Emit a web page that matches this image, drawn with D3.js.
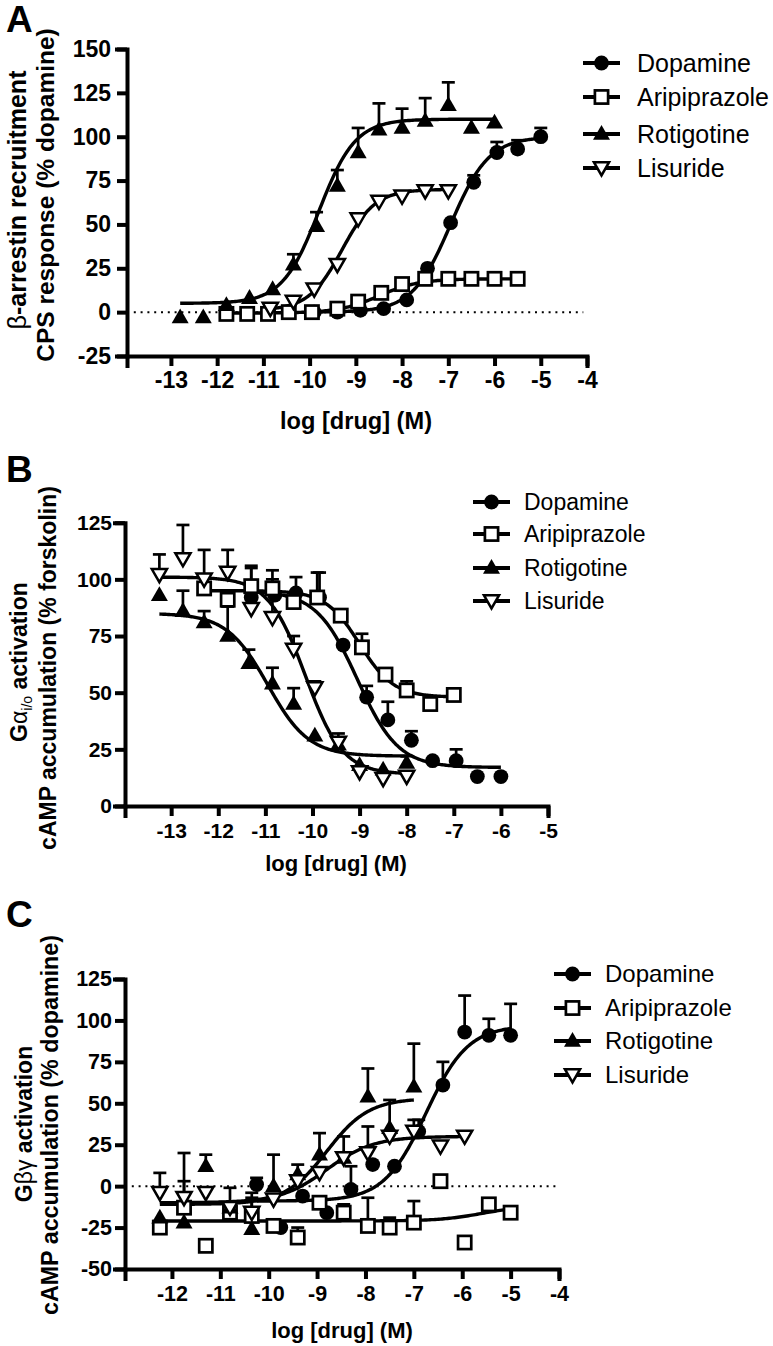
<!DOCTYPE html>
<html><head><meta charset="utf-8">
<script src="https://cdn.jsdelivr.net/npm/d3@7"></script>
<style>
body{margin:0;background:#fff}
svg{display:block;font-family:"Liberation Sans",Arial,Helvetica,sans-serif}
</style>
</head><body>
<svg id="c" width="773" height="1346"></svg>
<script>
// ---------- DATA ----------
const drugs = ["Dopamine", "Aripiprazole", "Rotigotine", "Lisuride"];

// Panel A: beta-arrestin recruitment
const aTicksX = [-13, -12, -11, -10, -9, -8, -7, -6, -5, -4];
const aTicksY = [-25, 0, 25, 50, 75, 100, 125, 150];
const aDopX = [-9.9, -9.4, -8.9, -8.4, -7.9, -7.45, -6.95, -6.45, -5.95, -5.5, -5];
const aDopY = [0, 0, 1, 2, 7, 25, 51, 74, 91, 93, 100];
const aDopE = [null, null, null, null, null, null, null, 78, 97, 98, 105];
const aAriX = [-11.8, -11.35, -10.9, -10.45, -9.95, -9.4, -8.95, -8.45, -8, -7.5, -7, -6.5, -6, -5.5];
const aAriY = [-1, -1, -1, 0, 0, 2, 6, 11, 16, 19, 19, 19, 19, 19];
const aAriE = [null, null, null, null, null, null, null, null, null, null, null, null, null, null];
const aRotX = [-12.8, -12.3, -11.8, -11.3, -10.8, -10.35, -9.85, -9.4, -8.95, -8.5, -8, -7.5, -7, -6.5, -6];
const aRotY = [-3, -3, 4, 8, 13, 27, 49, 72, 91, 104, 105, 109, 118, 105, 108];
const aRotE = [null, null, null, null, null, 33, 57, 81, 105, 119, 116, 122, 131, null, null];
const aLisX = [-10.85, -10.35, -9.9, -9.4, -8.95, -8.5, -8, -7.5, -7];
const aLisY = [2, 6, 13, 27, 53, 63, 66, 69, 69];
const aLisE = [null, null, null, null, null, null, null, null, null];
// fit parameters: [low-dose plateau, high-dose plateau, logEC50, hill]
const aDopFit = [0, 100, -6.95, 1.05];
const aAriFit = [-0.5, 19, -8.5, 1.0];
const aRotFit = [5, 110, -9.8, 1.1];
const aLisFit = [1, 70, -9.3, 1.2];

// Panel B: Galpha i/o activation
const bTicksX = [-13, -12, -11, -10, -9, -8, -7, -6, -5];
const bTicksY = [0, 25, 50, 75, 100, 125];
const bDopX = [-11.3, -10.8, -10.35, -9.85, -9.35, -8.85, -8.4, -7.9, -7.45, -6.95, -6.5, -6];
const bDopY = [92, 93, 94, 92, 71, 48, 38, 29, 20, 20, 13, 13];
const bDopE = [null, null, 101, 103, null, 53, 46, 33, null, 25, null, null];
const bAriX = [-12.3, -11.8, -11.3, -10.85, -10.4, -9.9, -9.4, -8.95, -8.45, -8, -7.5, -7];
const bAriY = [96, 91, 97, 96, 90, 92, 84, 70, 58, 51, 45, 49];
const bAriE = [null, null, 105, 104, null, 103, null, 76, null, 55, null, null];
const bRotX = [-13.25, -12.75, -12.3, -11.8, -11.35, -10.85, -10.4, -9.95, -9.45, -9, -8.5, -8];
const bRotY = [93, 86, 81, 75, 63, 54, 45, 31, 27, 18, 16, 19];
const bRotE = [null, 95, 86, 88, 69, 61, 52, null, null, null, null, 22];
const bLisX = [-13.25, -12.75, -12.3, -11.8, -11.3, -10.85, -10.4, -9.95, -9.45, -9, -8.5, -8];
const bLisY = [102, 109, 100, 103, 87, 83, 69, 52, 28, 15, 12, 13];
const bLisE = [111, 124, 113, 113, 106, 100, 75, 55, 32, null, null, null];
const bDopFit = [95, 17, -9.05, 1.0];
const bAriFit = [95, 48, -9.0, 1.2];
const bRotFit = [85, 22, -10.95, 1.0];
const bLisFit = [101, 14, -10.15, 1.1];

// Panel C: Gbetagamma activation
const cTicksX = [-12, -11, -10, -9, -8, -7, -6, -5, -4];
const cTicksY = [-50, -25, 0, 25, 50, 75, 100, 125];
const cDopX = [-10.25, -9.75, -9.3, -8.8, -8.3, -7.85, -7.4, -6.9, -6.4, -5.95, -5.45, -5];
const cDopY = [1, -25, -6, -16, -2, 13, 12, 33, 61, 93, 91, 91];
const cDopE = [5, null, null, null, 12, null, null, 40, 75, 115, 101, 110];
const cAriX = [-12.25, -11.75, -11.3, -10.8, -10.35, -9.9, -9.4, -8.95, -8.45, -7.95, -7.5, -7, -6.45, -5.95, -5.45, -5];
const cAriY = [-25, -13, -36, -16, -18, -24, -31, -10, -16, -24, -25, -22, 3, -34, -11, -16];
const cAriE = [null, 3, null, null, -7, null, -25, null, -11, -7, -19, -9, null, null, null, null];
const cRotX = [-12.25, -11.75, -11.3, -10.8, -10.35, -9.9, -9.4, -8.95, -8.45, -7.95, -7.5, -7];
const cRotY = [-19, -22, 12, -13, -26, 0, 7, 19, 17, 54, 35, 60];
const cRotE = [null, null, 19, null, null, 19, 13, 32, 30, 71, 52, 86];
const cLisX = [-12.25, -11.75, -11.3, -10.8, -10.35, -9.9, -9.4, -8.95, -8.45, -7.95, -7.5, -7, -6.45, -5.95];
const cLisY = [-4, -7, -4, -13, -16, -8, 3, 8, 17, 20, 30, 33, 24, 30];
const cLisE = [8, 20, null, -1, -4, null, null, null, null, 36, null, 40, null, null];
const cDopFit = [-9, 97, -6.75, 1.0];
const cAriFit = [-21, -12, -5.6, 1.0];
const cRotFit = [-11, 53, -8.8, 1.0];
const cLisFit = [-10, 30, -8.8, 0.9];

// ---------- DRAWING ----------
const svg = d3.select("#c");
svg.append("rect").attr("width", 773).attr("height", 1346).attr("fill", "#fff");

function logistic(p, x) { return p[0] + (p[1] - p[0]) / (1 + Math.pow(10, (p[2] - x) * p[3])); }

function drawMarker(g, type, cx, cy) {
  if (type === 0) {
    g.append("circle").attr("cx", cx).attr("cy", cy).attr("r", 7.4).attr("fill", "#000");
  } else if (type === 1) {
    g.append("rect").attr("x", cx - 6.6).attr("y", cy - 6.6).attr("width", 13.2).attr("height", 13.2)
      .attr("fill", "#fff").attr("stroke", "#000").attr("stroke-width", 2.7);
  } else if (type === 2) {
    g.append("path").attr("d", `M${cx},${cy - 9}L${cx + 8.5},${cy + 5.8}L${cx - 8.5},${cy + 5.8}Z`).attr("fill", "#000");
  } else {
    g.append("path").attr("d", `M${cx - 7.6},${cy - 5.8}L${cx + 7.6},${cy - 5.8}L${cx},${cy + 7.4}Z`)
      .attr("fill", "#fff").attr("stroke", "#000").attr("stroke-width", 2.5).attr("stroke-linejoin", "miter");
  }
}

function panel(cfg) {
  const g = svg.append("g");
  const x = d3.scaleLinear().domain(cfg.xDomain).range(cfg.xRange);
  const y = d3.scaleLinear().domain(cfg.yDomain).range(cfg.yRange);
  const y0 = cfg.yRange[0];

  if (cfg.zeroEnd) {
    g.append("line").attr("x1", cfg.xRange[0]).attr("x2", x(cfg.zeroEnd)).attr("y1", y(0)).attr("y2", y(0))
      .attr("stroke", "#000").attr("stroke-width", 2).attr("stroke-dasharray", "2,4.8");
  }

  const line = d3.line().x(d => x(d[0])).y(d => y(d[1]));
  cfg.series.forEach(s => {
    const lo = d3.min(s.x), hi = d3.max(s.x);
    const pts = d3.range(0, 201).map(i => { const v = lo + (hi - lo) * i / 200; return [v, logistic(s.fit, v)]; });
    g.append("path").attr("d", line(pts)).attr("fill", "none").attr("stroke", "#000").attr("stroke-width", 3.4);
  });

  cfg.series.forEach(s => {
    s.x.forEach((v, i) => {
      const e = s.e[i];
      if (e === null || e === undefined || e <= s.y[i]) return;
      g.append("line").attr("x1", x(v)).attr("x2", x(v)).attr("y1", y(s.y[i])).attr("y2", y(e))
        .attr("stroke", "#000").attr("stroke-width", 2.7);
      g.append("line").attr("x1", x(v) - 6.5).attr("x2", x(v) + 6.5).attr("y1", y(e)).attr("y2", y(e))
        .attr("stroke", "#000").attr("stroke-width", 2.7);
    });
  });

  cfg.series.forEach((s, k) => {
    s.x.forEach((v, i) => drawMarker(g, k, x(v), y(s.y[i])));
  });

  const ax = g.append("g").attr("transform", `translate(0,${y0})`)
    .call(d3.axisBottom(x).tickValues(cfg.xTicks).tickFormat(d => String(d)).tickSizeOuter(0).tickSize(10).tickPadding(cfg.xPad));
  const ay = g.append("g").attr("transform", `translate(${cfg.xRange[0]},0)`)
    .call(d3.axisLeft(y).tickValues(cfg.yTicks).tickFormat(d => String(d)).tickSizeOuter(0).tickSize(10).tickPadding(cfg.yPad));
  [ax, ay].forEach(a => {
    a.select(".domain").attr("stroke-width", 4).attr("stroke-linecap", "square");
    a.selectAll(".tick line").attr("stroke-width", 4);
    a.selectAll("text").attr("font-size", cfg.tickFont).attr("font-weight", "bold").attr("fill", "#000")
      .attr("font-family", '"Liberation Sans",Arial,sans-serif');
  });

  g.append("text").attr("x", cfg.letter[1]).attr("y", cfg.letter[2]).attr("font-size", 37)
    .attr("font-weight", "bold").text(cfg.letter[0]);

  g.append("text").attr("x", cfg.xTitle[0]).attr("y", cfg.xTitle[1]).attr("text-anchor", "middle")
    .attr("font-size", cfg.xTitle[2]).attr("font-weight", "bold").text("log [drug] (M)");

  cfg.yTitles.forEach(t => {
    const tx = g.append("text").attr("transform", `translate(${t.x},${t.y}) rotate(-90)`)
      .attr("text-anchor", "middle").attr("font-size", t.size).attr("font-weight", "bold");
    t.parts.forEach(p => {
      const ts = tx.append("tspan").text(p.t);
      if (p.normal) ts.attr("font-weight", "normal");
      if (p.fs) ts.attr("font-size", p.fs);
      if (p.dy) ts.attr("dy", p.dy);
    });
  });

  drugs.forEach((name, k) => {
    const ry = cfg.legend.rows[k];
    g.append("line").attr("x1", cfg.legend.x0).attr("x2", cfg.legend.x0 + 37).attr("y1", ry).attr("y2", ry)
      .attr("stroke", "#000").attr("stroke-width", 3.8);
    drawMarker(g, k, cfg.legend.x0 + 18.5, ry);
    g.append("text").attr("x", cfg.legend.tx).attr("y", ry).attr("dy", "0.35em")
      .attr("font-size", cfg.legend.fs).text(name);
  });
}

panel({
  xDomain: [-13.95, -4], xRange: [127, 587],
  yDomain: [-25, 150], yRange: [356, 49],
  xTicks: aTicksX, yTicks: aTicksY, tickFont: 23, xPad: 6, yPad: 6,
  zeroEnd: -4.08,
  series: [
    {x: aDopX, y: aDopY, e: aDopE, fit: aDopFit},
    {x: aAriX, y: aAriY, e: aAriE, fit: aAriFit},
    {x: aRotX, y: aRotY, e: aRotE, fit: aRotFit},
    {x: aLisX, y: aLisY, e: aLisE, fit: aLisFit}
  ],
  letter: ["A", 6, 32],
  xTitle: [356, 429, 23.6],
  yTitles: [
    {x: 26, y: 200, size: 25, parts: [{t: "β", normal: true}, {t: "-arrestin recruitment"}]},
    {x: 54, y: 195, size: 24.5, parts: [{t: "CPS response (% dopamine)"}]}
  ],
  legend: {x0: 583, tx: 637, rows: [63, 97, 134, 168], fs: 25}
});

panel({
  xDomain: [-13.98, -5], xRange: [125, 548],
  yDomain: [0, 125], yRange: [806, 522.7],
  xTicks: bTicksX, yTicks: bTicksY, tickFont: 21, xPad: 7, yPad: 3,
  zeroEnd: null,
  series: [
    {x: bDopX, y: bDopY, e: bDopE, fit: bDopFit},
    {x: bAriX, y: bAriY, e: bAriE, fit: bAriFit},
    {x: bRotX, y: bRotY, e: bRotE, fit: bRotFit},
    {x: bLisX, y: bLisY, e: bLisE, fit: bLisFit}
  ],
  letter: ["B", 6, 482],
  xTitle: [336, 871, 22],
  yTitles: [
    {x: 27, y: 662, size: 23, parts: [{t: "G"}, {t: "α", normal: true}, {t: "i/o", normal: true, fs: 14, dy: 5}, {t: " activation", dy: -5}]},
    {x: 56, y: 668, size: 23, parts: [{t: "cAMP accumulation (% forskolin)"}]}
  ],
  legend: {x0: 473, tx: 524, rows: [502, 534, 568, 601], fs: 23}
});

panel({
  xDomain: [-12.97, -4], xRange: [125, 559],
  yDomain: [-50, 125], yRange: [1269, 979],
  xTicks: cTicksX, yTicks: cTicksY, tickFont: 21.5, xPad: 7, yPad: 3,
  zeroEnd: -4.05,
  series: [
    {x: cDopX, y: cDopY, e: cDopE, fit: cDopFit},
    {x: cAriX, y: cAriY, e: cAriE, fit: cAriFit},
    {x: cRotX, y: cRotY, e: cRotE, fit: cRotFit},
    {x: cLisX, y: cLisY, e: cLisE, fit: cLisFit}
  ],
  letter: ["C", 6, 927],
  xTitle: [342, 1338, 22],
  yTitles: [
    {x: 32, y: 1124, size: 23, parts: [{t: "G"}, {t: "βγ", normal: true}, {t: " activation"}]},
    {x: 58, y: 1125, size: 23.3, parts: [{t: "cAMP accumulation (% dopamine)"}]}
  ],
  legend: {x0: 554, tx: 605, rows: [974, 1008, 1041, 1075], fs: 24}
});
</script>
</body></html>
